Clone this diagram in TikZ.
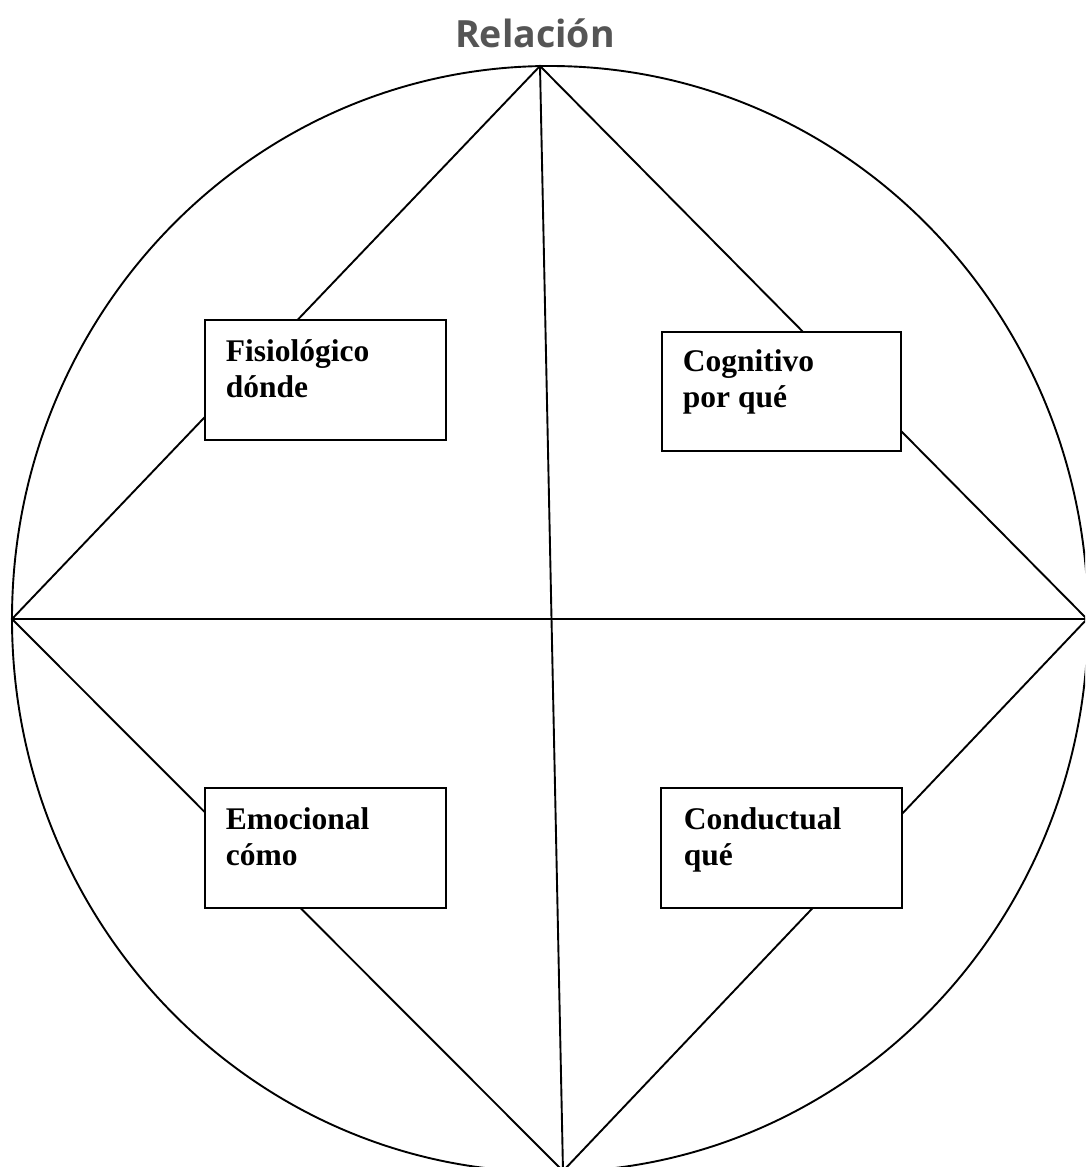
\documentclass[tikz,border=0pt]{standalone}
\usepackage{fontspec}
\setmainfont{Liberation Serif}
\newfontfamily\titlefont{Open Sans}
\definecolor{titlegray}{HTML}{555555}
\begin{document}
\begin{tikzpicture}[x=1pt,y=-1pt,
  line width=1.9pt,
  box/.style={draw, fill=white, line width=2.1pt, rectangle, inner sep=0pt,
              minimum width=241pt, minimum height=120pt, anchor=north west},
  lbl/.style={anchor=base west, inner sep=0pt, font=\fontsize{31.5}{36}\selectfont\bfseries},
  ttl/.style={anchor=base, inner sep=0pt, text=titlegray, font=\titlefont\fontsize{37.5}{44}\selectfont\bfseries}]
\useasboundingbox (0,0) rectangle (1085,1167);
\clip (0,0) rectangle (1085,1167);
% frame ellipse
\draw (550,619) ellipse [x radius=538, y radius=553];
% vertices
\coordinate (T) at (540,66);
\coordinate (L) at (12,619);
\coordinate (R) at (1087,619);
\coordinate (B) at (563,1171);
\draw (T) -- (B);
\draw (L) -- (R);
\draw (T) -- (L) -- (B) -- (R) -- cycle;
% boxes
\node[box] (fis) at (204,319) {};
\node[box, minimum width=239pt, minimum height=119pt] (cog) at (661,331) {};
\node[box] (emo) at (204,787) {};
\node[box] (con) at (660,787) {};
% labels
\node[lbl] (fis1) at (225,361) {Fisiológico};
\node[lbl] (fis2) at (225,397) {dónde};
\node[lbl] (cog1) at (682,371) {Cognitivo};
\node[lbl] (cog2) at (682,407) {por qué};
\node[lbl] (emo1) at (225,829) {Emocional};
\node[lbl] (emo2) at (225,865) {cómo};
\node[lbl] (con1) at (683,829) {Conductual};
\node[lbl] (con2) at (683,865) {qué};
% title
\node[ttl] (title) at (535,47) {Relación};
\end{tikzpicture}
\end{document}
